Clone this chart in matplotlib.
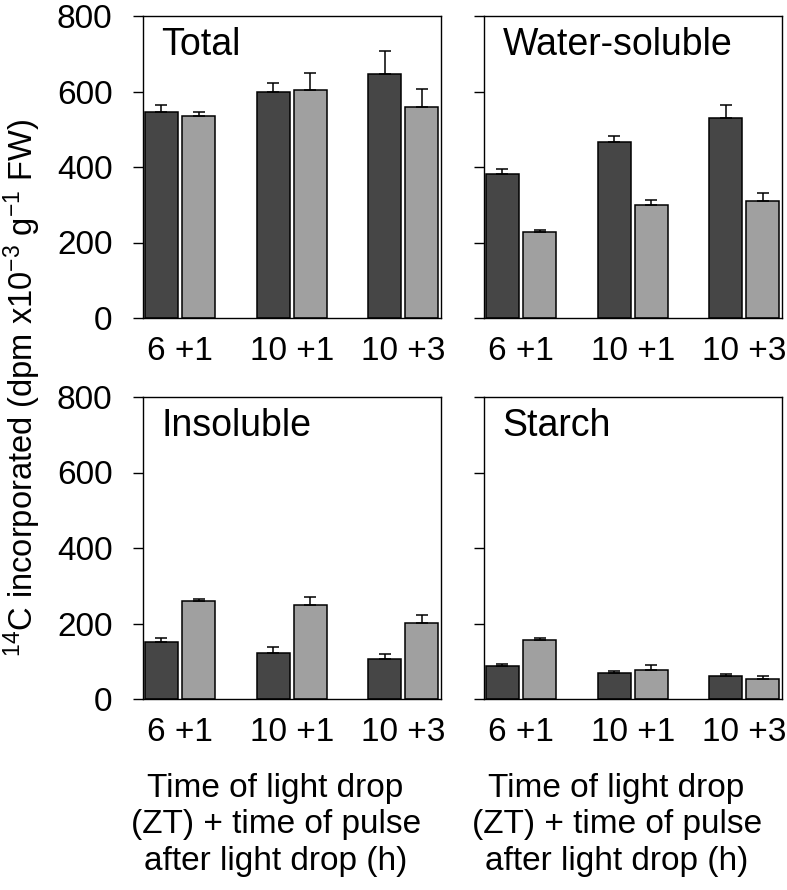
import numpy as np
import matplotlib
matplotlib.use('Agg')
import matplotlib.pyplot as plt

plt.rcParams['font.family'] = ['Liberation Sans', 'DejaVu Sans']
plt.rcParams['mathtext.default'] = 'regular'

# data (dark = first bar, light = second bar of each pair)
groups = ['6 +1', '10 +1', '10 +3']
panels = ['Total', 'Water-soluble', 'Insoluble', 'Starch']

total_dark = [546, 600, 647]
total_dark_err = [18, 23, 61]
total_light = [534, 604, 558]
total_light_err = [13, 44, 48]

water_dark = [382, 465, 529]
water_dark_err = [13, 16, 35]
water_light = [227, 299, 310]
water_light_err = [5, 14, 20]

insol_dark = [151, 122, 106]
insol_dark_err = [10, 16, 13]
insol_light = [259, 248, 201]
insol_light_err = [7, 23, 21]

starch_dark = [88, 68, 60]
starch_dark_err = [6, 7, 6]
starch_light = [156, 78, 53]
starch_light_err = [6, 11, 9]

series = [
    (total_dark, total_dark_err, total_light, total_light_err),
    (water_dark, water_dark_err, water_light, water_light_err),
    (insol_dark, insol_dark_err, insol_light, insol_light_err),
    (starch_dark, starch_dark_err, starch_light, starch_light_err),
]

dark_col = '#464646'
light_col = '#a0a0a0'
fs = 24

fig = plt.figure(figsize=(7.87, 8.9), dpi=100)
W, H = 787.0, 890.0
boxes = [(143, 16), (484, 16), (143, 397), (484, 397)]
aw, ah = 298, 302

x = np.arange(len(groups))
bw = 0.295
off = 0.166

for i, (left, top) in enumerate(boxes):
    ax = fig.add_axes([left / W, 1 - (top + ah) / H, aw / W, ah / H])
    d, de, l, le = series[i]
    zeros = np.zeros(len(groups))
    ekw = dict(elinewidth=1.1, capthick=1.1)
    ax.bar(x - off, d, bw, color=dark_col, edgecolor='black', linewidth=1.1,
           yerr=[zeros, de], capsize=4, error_kw=ekw, zorder=2)
    ax.bar(x + off, l, bw, color=light_col, edgecolor='black', linewidth=1.1,
           yerr=[zeros, le], capsize=4, error_kw=ekw, zorder=2)
    ax.set_xlim(-0.331, 2.337)
    ax.set_ylim(0, 800)
    ax.set_yticks([0, 200, 400, 600, 800])
    ax.set_xticks(x)
    ax.set_xticklabels(groups, fontsize=fs)
    ax.tick_params(axis='x', length=0, pad=13)
    ax.tick_params(axis='y', direction='out', length=7, width=1, labelsize=fs, pad=15)
    if i % 2 == 1:
        ax.set_yticklabels([])
    for s in ax.spines.values():
        s.set_linewidth(1.0)
    ax.text(0.062, 0.87, panels[i], transform=ax.transAxes, fontsize=27, va='baseline')
    if i >= 2:
        ax.set_xlabel('Time of light drop\n(ZT) + time of pulse\nafter light drop (h)',
                      fontsize=fs, linespacing=1.22)
        ax.xaxis.set_label_coords(0.445, -0.245)
        ax.xaxis.label.set_va('top')

fig.text(22 / W, 1 - 388 / H, '$^{14}$C incorporated (dpm x10$^{-3}$ g$^{-1}$ FW)',
         rotation=90, ha='center', va='center', fontsize=23.5)

fig.savefig('out.png', dpi=100)
